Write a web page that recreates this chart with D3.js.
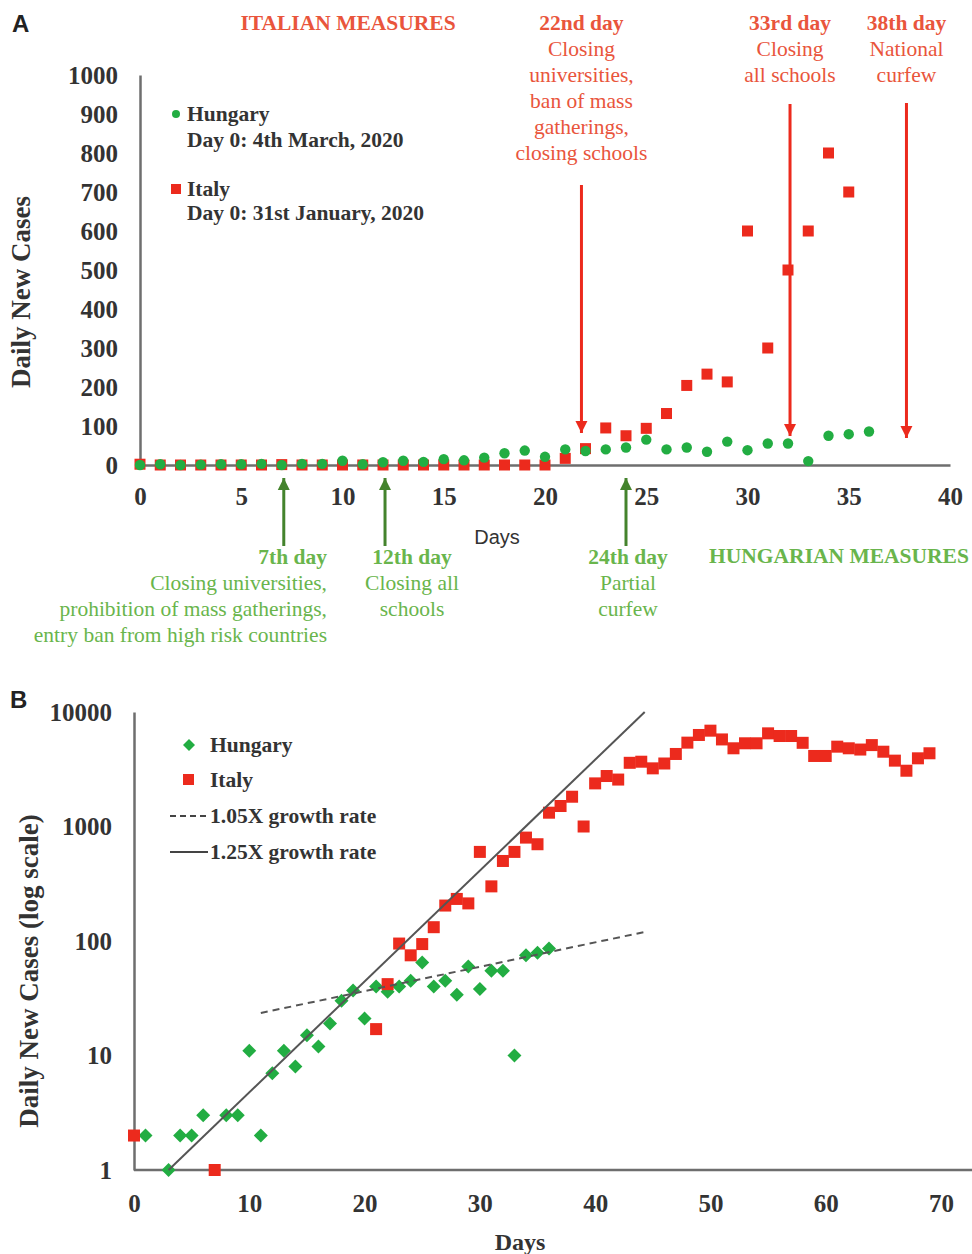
<!DOCTYPE html>
<html>
<head>
<meta charset="utf-8">
<script src="https://cdn.jsdelivr.net/npm/d3@7"></script>
<style>
  html, body { margin: 0; padding: 0; background: #fff; }
  svg text { font-family: "Liberation Serif", "Times New Roman", serif; }
</style>
</head>
<body>
<svg id="chart" width="972" height="1254"></svg>
<script>
// ---- Data (index = day) ----
// Hungary daily new cases, day 0 = 4 March 2020
const hungaryCases = [0, 2, 0, 1, 2, 2, 3, 0, 3, 3, 11, 2, 7, 11, 8, 15, 12, 19, 30, 37,
  21, 40, 36, 40, 45, 65, 40, 45, 34, 60, 38, 55, 55, 10, 75, 79, 86];
// Italy daily new cases, day 0 = 31 January 2020
const italyCases = [2, 0, 0, 0, 0, 0, 0, 1, 0, 0, 0, 0, 0, 0, 0, 0, 0, 0, 0, 0,
  0, 17, 42, 95, 75, 94, 132, 204, 233, 213, 600, 300, 500, 600, 800, 700, 1320, 1510, 1820, 1000,
  2380, 2760, 2570, 3600, 3680, 3220, 3550, 4300, 5400, 6300, 6870, 5760, 4820, 5330, 5330, 6510, 6170, 6170, 5380, 4130,
  4130, 4980, 4820, 4700, 5140, 4500, 3760, 3070, 3940, 4360];
const italyLastDayLinear = 35;   // last Italian day shown in the linear panel

// Axis ticks
const linearTicksY = [0, 100, 200, 300, 400, 500, 600, 700, 800, 900, 1000];
const linearTicksX = [0, 5, 10, 15, 20, 25, 30, 35, 40];
const logTicksY = [1, 10, 100, 1000, 10000];
const logTicksX = [0, 10, 20, 30, 40, 50, 60, 70];

// Growth-rate reference lines: [day, cases] endpoints
const growth105 = [[11, 23.5], [44.3, 120]];
const growth125 = [[3, 1], [44.3, 10000]];

// Measures
const italianMeasures = [
  { head: "22nd day", lines: ["Closing", "universities,", "ban of mass", "gatherings,", "closing schools"], arrowAt: 21.8, top: 185, tip: 433 },
  { head: "33rd day", lines: ["Closing", "all schools"], arrowAt: 32.1, top: 104, tip: 436 },
  { head: "38th day", lines: ["National", "curfew"], arrowAt: 37.85, top: 103, tip: 438 }
];
const hungarianMeasures = [
  { head: "7th day", lines: ["Closing universities,", "prohibition of mass gatherings,", "entry ban from high risk countries"], arrowAt: 7.1, anchor: "end", textX: 327 },
  { head: "12th day", lines: ["Closing all", "schools"], arrowAt: 12.1, anchor: "middle", textX: 412 },
  { head: "24th day", lines: ["Partial", "curfew"], arrowAt: 24, anchor: "middle", textX: 628 }
];

// ---- Styles ----
const RED = "#ec2a1d", RED_TXT = "#e9553c", GREEN = "#22ad42", GREEN_TXT = "#69b54c", GREEN_ARROW = "#44832d";
const AXIS = "#6e6e6e", INK = "#333";
const TICK_FONT = "25px";

const svg = d3.select("#chart");
const defs = svg.append("defs");
function arrowMarker(id, color) {
  defs.append("marker").attr("id", id).attr("viewBox", "0 0 10 10")
    .attr("refX", 10).attr("refY", 5).attr("markerWidth", 4).attr("markerHeight", 5)
    .attr("markerUnits", "strokeWidth").attr("orient", "auto")
    .append("path").attr("d", "M0,0 L10,5 L0,10 Z").attr("fill", color);
}
arrowMarker("arrRed", RED);
arrowMarker("arrGreen", GREEN_ARROW);

function styleAxis(a) {
  a.select(".domain").attr("stroke", AXIS).attr("stroke-width", 2.5);
  a.selectAll("text").attr("fill", INK).style("font-family", "Liberation Serif, serif")
    .style("font-weight", "bold").style("font-size", TICK_FONT);
}

// ================= Panel A (linear) =================
const xA = d3.scaleLinear().domain([0, 40]).range([140, 950]);
const yA = d3.scaleLinear().domain([0, 1000]).range([465, 75]);
const gA = svg.append("g");

gA.append("text").attr("x", 12).attr("y", 32).text("A")
  .style("font-family", "Liberation Sans, Arial, sans-serif").style("font-weight", "bold")
  .style("font-size", "24px").attr("fill", "#222");

// axes
const axA_y = gA.append("g").attr("transform", `translate(${xA(0)},0)`)
  .call(d3.axisLeft(yA).tickValues(linearTicksY).tickFormat(d3.format("d")).tickSize(0).tickPadding(22));
const axA_x = gA.append("g").attr("transform", `translate(0,${yA(0)})`)
  .call(d3.axisBottom(xA).tickValues(linearTicksX).tickSize(0).tickPadding(22));
styleAxis(axA_y);
styleAxis(axA_x);

gA.append("text").attr("transform", `translate(30,292) rotate(-90)`).attr("text-anchor", "middle")
  .text("Daily New Cases").attr("fill", INK).style("font-weight", "bold").style("font-size", "27px");
gA.append("text").attr("x", 497).attr("y", 544).attr("text-anchor", "middle").text("Days")
  .attr("fill", INK).style("font-family", "Liberation Sans, Arial, sans-serif").style("font-size", "20px");

// data marks
gA.append("g").selectAll("rect").data(italyCases.slice(0, italyLastDayLinear + 1)).join("rect")
  .attr("x", (d, i) => xA(i) - 5.5).attr("y", d => yA(d) - 5.5)
  .attr("width", 11).attr("height", 11).attr("fill", RED);
gA.append("g").selectAll("circle").data(hungaryCases).join("circle")
  .attr("cx", (d, i) => xA(i)).attr("cy", d => yA(d)).attr("r", 5.2).attr("fill", GREEN);

// legend
const legA = gA.append("g").style("font-weight", "bold").style("font-size", "21.5px").attr("fill", INK);
legA.append("circle").attr("cx", 176).attr("cy", 114).attr("r", 4).attr("fill", GREEN);
legA.append("text").attr("x", 187).attr("y", 121).text("Hungary");
legA.append("text").attr("x", 187).attr("y", 147).text("Day 0: 4th March, 2020");
legA.append("rect").attr("x", 171).attr("y", 184).attr("width", 10).attr("height", 10).attr("fill", RED);
legA.append("text").attr("x", 187).attr("y", 196).text("Italy");
legA.append("text").attr("x", 187).attr("y", 220).text("Day 0: 31st January, 2020");

// Italian measures (top, red, arrows pointing down)
gA.append("text").attr("x", 348).attr("y", 30).attr("text-anchor", "middle").text("ITALIAN MEASURES")
  .attr("fill", RED_TXT).style("font-weight", "bold").style("font-size", "21.5px");
italianMeasures.forEach(m => {
  const cx = xA(m.arrowAt);
  const t = gA.append("text").attr("text-anchor", "middle").attr("fill", RED_TXT).style("font-size", "21.5px");
  t.append("tspan").attr("x", cx).attr("y", 30).style("font-weight", "bold").text(m.head);
  m.lines.forEach((l, k) => t.append("tspan").attr("x", cx).attr("y", 56 + k * 26).text(l));
  gA.append("line").attr("x1", xA(m.arrowAt)).attr("x2", xA(m.arrowAt))
    .attr("y1", m.top).attr("y2", m.tip).attr("stroke", RED).attr("stroke-width", 3)
    .attr("marker-end", "url(#arrRed)");
});

// Hungarian measures (bottom, green, arrows pointing up)
gA.append("text").attr("x", 839).attr("y", 563).attr("text-anchor", "middle").text("HUNGARIAN MEASURES")
  .attr("fill", GREEN_TXT).style("font-weight", "bold").style("font-size", "21.5px");
hungarianMeasures.forEach(m => {
  const t = gA.append("text").attr("text-anchor", m.anchor).attr("fill", GREEN_TXT).style("font-size", "21.5px");
  t.append("tspan").attr("x", m.textX).attr("y", 564).style("font-weight", "bold").text(m.head);
  m.lines.forEach((l, k) => t.append("tspan").attr("x", m.textX).attr("y", 590 + k * 26).text(l));
  gA.append("line").attr("x1", xA(m.arrowAt)).attr("x2", xA(m.arrowAt))
    .attr("y1", 546).attr("y2", 478).attr("stroke", GREEN_ARROW).attr("stroke-width", 3)
    .attr("marker-end", "url(#arrGreen)");
});

// ================= Panel B (log) =================
const xB = d3.scaleLinear().domain([0, 70]).range([134, 941]);
const yB = d3.scaleLog().domain([1, 10000]).range([1170, 712]);
const gB = svg.append("g");

gB.append("text").attr("x", 10).attr("y", 708).text("B")
  .style("font-family", "Liberation Sans, Arial, sans-serif").style("font-weight", "bold")
  .style("font-size", "24px").attr("fill", "#222");

const axB_y = gB.append("g").attr("transform", `translate(${xB(0)},0)`)
  .call(d3.axisLeft(yB).tickValues(logTicksY).tickFormat(d3.format("d")).tickSize(0).tickPadding(22));
const axB_x = gB.append("g").attr("transform", `translate(0,${yB(1)})`)
  .call(d3.axisBottom(xB).tickValues(logTicksX).tickSize(0).tickPadding(24));
axB_x.select(".domain").remove();
gB.append("line").attr("x1", xB(0)).attr("x2", xB(72.7)).attr("y1", yB(1)).attr("y2", yB(1))
  .attr("stroke", AXIS).attr("stroke-width", 2.5);
styleAxis(axB_y);
styleAxis(axB_x);

gB.append("text").attr("transform", `translate(38,971) rotate(-90)`).attr("text-anchor", "middle")
  .text("Daily New Cases (log scale)").attr("fill", INK).style("font-weight", "bold").style("font-size", "27px");
gB.append("text").attr("x", 520).attr("y", 1250).attr("text-anchor", "middle").text("Days")
  .attr("fill", INK).style("font-weight", "bold").style("font-size", "24px");

// Hungary diamonds
gB.append("g").selectAll("path").data(hungaryCases.map((v, i) => [i, v]).filter(d => d[1] > 0)).join("path")
  .attr("transform", d => `translate(${xB(d[0])},${yB(d[1])})`)
  .attr("d", "M0,-7 L7,0 L0,7 L-7,0 Z").attr("fill", GREEN);
// Italy squares
gB.append("g").selectAll("rect").data(italyCases.map((v, i) => [i, v]).filter(d => d[1] > 0)).join("rect")
  .attr("x", d => xB(d[0]) - 6).attr("y", d => yB(d[1]) - 6)
  .attr("width", 12).attr("height", 12).attr("fill", RED);

// growth-rate lines
const lineB = d3.line().x(d => xB(d[0])).y(d => yB(d[1]));
gB.append("path").attr("d", lineB(growth105)).attr("fill", "none").attr("stroke", "#555")
  .attr("stroke-width", 2).attr("stroke-dasharray", "7,5");
gB.append("path").attr("d", lineB(growth125)).attr("fill", "none").attr("stroke", "#555")
  .attr("stroke-width", 2);

// legend
const legB = gB.append("g").style("font-weight", "bold").style("font-size", "21.5px").attr("fill", INK);
legB.append("path").attr("transform", "translate(189,745)").attr("d", "M0,-6 L6,0 L0,6 L-6,0 Z").attr("fill", GREEN);
legB.append("text").attr("x", 210).attr("y", 752).text("Hungary");
legB.append("rect").attr("x", 183).attr("y", 774).attr("width", 11).attr("height", 11).attr("fill", RED);
legB.append("text").attr("x", 210).attr("y", 787).text("Italy");
legB.append("line").attr("x1", 170).attr("x2", 208).attr("y1", 816).attr("y2", 816)
  .attr("stroke", "#444").attr("stroke-width", 1.8).attr("stroke-dasharray", "6,4");
legB.append("text").attr("x", 210).attr("y", 823).text("1.05X growth rate");
legB.append("line").attr("x1", 170).attr("x2", 208).attr("y1", 852).attr("y2", 852)
  .attr("stroke", "#444").attr("stroke-width", 1.8);
legB.append("text").attr("x", 210).attr("y", 859).text("1.25X growth rate");
</script>
</body>
</html>
